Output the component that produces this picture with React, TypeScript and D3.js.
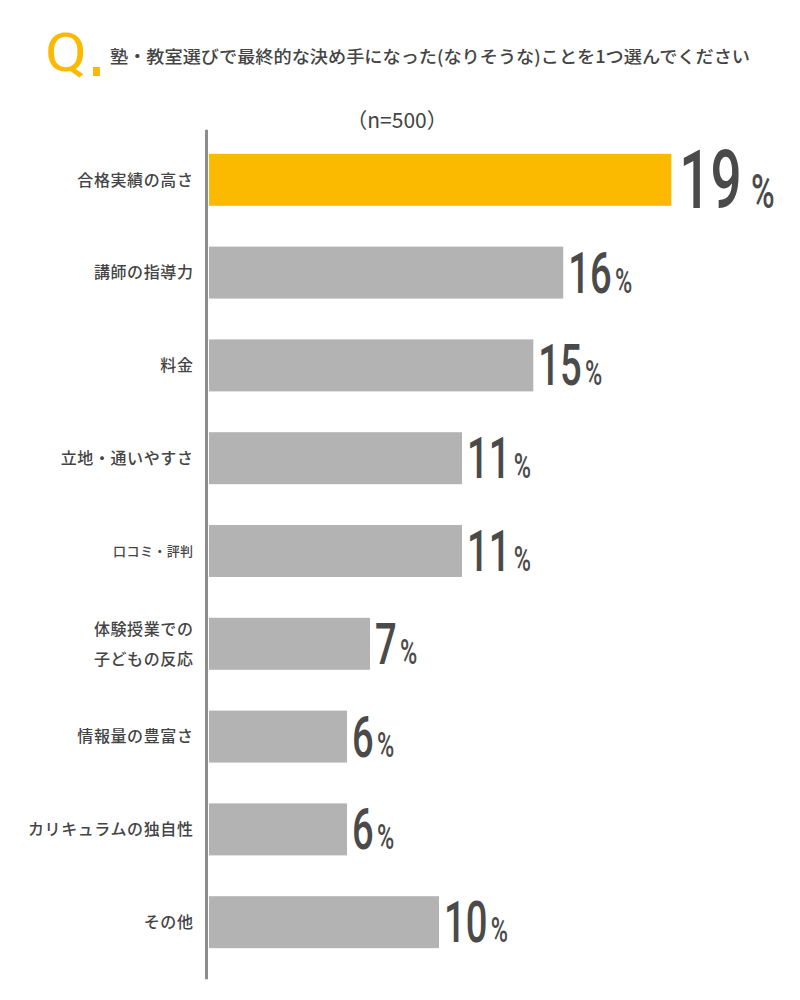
import React, { useEffect, useRef } from "react";
import * as d3 from "d3";

// 回答項目
const categories = [
  "合格実績の高さ",
  "講師の指導力",
  "料金",
  "立地・通いやすさ",
  "口コミ・評判",
  "体験授業での\n子どもの反応",
  "情報量の豊富さ",
  "カリキュラムの独自性",
  "その他",
];
// 表示されている割合（%）
const shownPercent = [19, 16, 15, 11, 11, 7, 6, 6, 10];
// 棒の長さ
const barLength = [20.1, 15.4, 14.1, 11, 11, 7, 6, 6, 10];

const questionText =
  "塾・教室選びで最終的な決め手になった(なりそうな)ことを1つ選んでください";
const sampleText = "（n=500）";

const WIDTH = 800;
const HEIGHT = 1000;
const ORANGE = "#fbba00";
const GRAY = "#b3b3b3";
const TEXT = "#444444";
const NUM = "#4a4a4a";
const JP = "'Noto Sans CJK JP', 'Noto Sans', sans-serif";
const NUMFONT = "Roboto, 'Liberation Sans', sans-serif";

const App: React.FC = () => {
  const svgRef = useRef<SVGSVGElement | null>(null);

  useEffect(() => {
    const svg = d3.select(svgRef.current);
    svg.selectAll("*").remove();
    svg.attr("width", WIDTH).attr("height", HEIGHT);

    const x = d3.scaleLinear().domain([0, 20]).range([209, 669]);
    const y = d3
      .scaleBand<string>()
      .domain(categories)
      .range([113, 989])
      .paddingInner(0.44)
      .paddingOuter(0.44);
    const bw = y.bandwidth();

    // ✅ タイトル
    svg
      .append("text")
      .attr("x", 45)
      .attr("y", 71)
      .attr("transform", "translate(45,71) scale(1.15,1) translate(-45,-71)")
      .style("font-family", NUMFONT)
      .style("font-weight", 400)
      .style("font-size", "53px")
      .style("fill", ORANGE)
      .text("Q");
    svg
      .append("rect")
      .attr("x", 93)
      .attr("y", 67)
      .attr("width", 7)
      .attr("height", 9)
      .attr("fill", ORANGE);
    svg
      .append("text")
      .attr("x", 110)
      .attr("y", 63)
      .attr("textLength", 640)
      .attr("lengthAdjust", "spacingAndGlyphs")
      .style("font-family", JP)
      .style("font-size", "17.5px")
      .style("font-weight", 500)
      .style("fill", TEXT)
      .text(questionText);

    svg
      .append("text")
      .attr("x", 397)
      .attr("y", 128)
      .attr("text-anchor", "middle")
      .style("font-family", JP)
      .style("font-size", "21px")
      .style("fill", TEXT)
      .text(sampleText);

    // ✅ 棒
    svg
      .selectAll(".bar")
      .data(categories)
      .enter()
      .append("rect")
      .attr("class", "bar")
      .attr("x", x(0))
      .attr("y", (d) => y(d)!)
      .attr("width", (_, i) => x(barLength[i]) - x(0))
      .attr("height", bw)
      .attr("fill", (_, i) => (i === 0 ? ORANGE : GRAY));

    // ✅ 縦軸
    const first = y(categories[0])!;
    const last = y(categories[categories.length - 1])!;
    svg
      .append("line")
      .attr("x1", x(0) - 2.5)
      .attr("x2", x(0) - 2.5)
      .attr("y1", first - 24)
      .attr("y2", last + bw + 31)
      .attr("stroke", "#8c8c8c")
      .attr("stroke-width", 3);

    // ✅ 項目ラベル
    categories.forEach((c) => {
      const lines = c.split("\n");
      const cy = y(c)! + bw / 2;
      const size = c === "口コミ・評判" ? 13 : 16;
      const t = svg
        .append("text")
        .attr("text-anchor", "end")
        .style("font-family", JP)
        .style("font-size", `${size}px`)
        .style("font-weight", 500)
        .style("letter-spacing", size === 13 ? "0.4px" : "0.6px")
        .style("fill", TEXT);
      lines.forEach((l, j) => {
        t.append("tspan")
          .attr("x", 193.5)
          .attr("y", cy + size * 0.36 + (j - (lines.length - 1) / 2) * 30)
          .text(l);
      });
    });

    // ✅ 数値ラベル
    categories.forEach((c, i) => {
      const big = i === 0;
      const nx = x(barLength[i]) + (big ? 8 : 5);
      const ny = y(c)! + bw / 2 + (big ? 28 : 20);
      const t = svg
        .append("text")
        .attr("x", nx)
        .attr("y", ny)
        .attr("transform", `translate(${nx},${ny}) scale(0.67,1) translate(${-nx},${-ny})`)
        .style("font-family", NUMFONT)
        .style("font-weight", 500)
        .style("fill", NUM);
      t.append("tspan")
        .style("font-size", big ? "82px" : "57px")
        .text(shownPercent[i]);
      t.append("tspan")
        .attr("dx", big ? 14 : 5)
        .style("font-size", big ? "48px" : "35px")
        .text("%");
    });
  }, []);

  return (
    <div style={{ position: "absolute", left: 0, top: 0, width: WIDTH, height: HEIGHT, background: "#fff" }}>
      <svg ref={svgRef}></svg>
    </div>
  );
};

export default App;
